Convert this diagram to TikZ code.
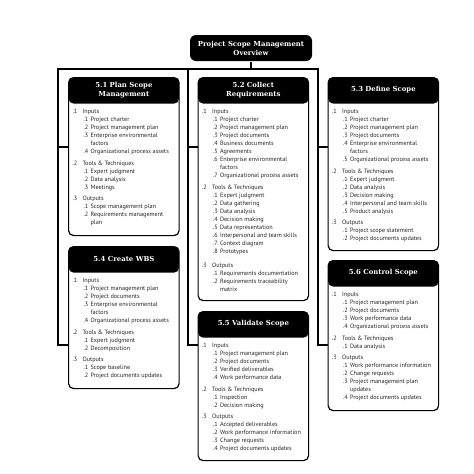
\documentclass[tikz,border=0pt]{standalone}
\usepackage{fontspec}
\setmainfont{PT Sans}
\newfontfamily\slabfont{DejaVu Serif}
\usetikzlibrary{positioning,calc}

% one line of a process box: group, sub item, wrapped rest
\newcommand\grp[2]{\makebox[10pt][l]{#1}#2}
\newcommand\sub[2]{\hspace*{11pt}\makebox[7pt][l]{#1}#2}
\newcommand\cnt[1]{\hspace*{18pt}#1}

\begin{document}
\begin{tikzpicture}[x=1pt, y=-1pt, line width=1.2pt,
  frame/.style={draw, fill=white, rounded corners=5pt, anchor=north west, minimum width=110.5pt, inner sep=0pt,
    path picture={\fill[black] (path picture bounding box.north west) rectangle ([yshift=-26pt]path picture bounding box.north east);}},
  head/.style={align=center, text=white, inner sep=0pt, font=\slabfont\bfseries\fontsize{6.9}{9}\selectfont},
  body/.style={anchor=north west, align=left, inner xsep=4pt, inner ysep=5.5pt, text=black!85, font=\fontsize{6.2}{8}\selectfont},
  overview/.style={fill=black, rounded corners=6pt, minimum width=122pt, minimum height=26pt, inner sep=0pt, align=center, text=white, font=\slabfont\bfseries\fontsize{6.9}{9}\selectfont}]

\useasboundingbox (0,0) rectangle (474,474);

% tree lines
\coordinate (bl) at (58,69);
\coordinate (bm) at (188,69);
\coordinate (br) at (318,69);
\coordinate (tl) at (58,147);
\coordinate (tm) at (188,147);
\coordinate (tr) at (318,147);
\coordinate (kl) at (58,345);
\coordinate (km) at (188,345);
\coordinate (kr) at (318,345);

\node[overview] (top) at (251,48) {Project Scope Management\\Overview};

\node[frame, minimum height=158pt] (p51) at (68,77) {};
\node[frame, minimum height=223pt] (p52) at (197.5,77) {};
\node[frame, minimum height=173pt] (p53) at (327.5,77) {};
\node[frame, minimum height=142pt] (p54) at (68,246) {};
\node[frame, minimum height=149pt] (p55) at (197.5,311) {};
\node[frame, minimum height=150pt] (p56) at (327.5,260) {};

\draw (top.south) -- (top.south |- bm);
\draw (kl -| p54.west) -- (kl) -- (bl) -- (br) -- (kr) -- (kr -| p56.west);
\draw (bm) -- (km) -- (km -| p55.west);
\draw (tl) -- (tl -| p51.west);
\draw (tm) -- (tm -| p52.west);
\draw (tr) -- (tr -| p53.west);

\node[head] (h51) at ([yshift=-13pt]p51.north) {5.1 Plan Scope\\Management};
\node[head] (h52) at ([yshift=-13pt]p52.north) {5.2 Collect\\Requirements};
\node[head] (h53) at ([yshift=-13pt]p53.north) {5.3 Define Scope};
\node[head] (h54) at ([yshift=-13pt]p54.north) {5.4 Create WBS};
\node[head] (h55) at ([yshift=-13pt]p55.north) {5.5 Validate Scope};
\node[head] (h56) at ([yshift=-13pt]p56.north) {5.6 Control Scope};

\node[body] (b51) at ([yshift=-26pt]p51.north west) {%
  \grp{.1}{Inputs}\\
  \sub{.1}{Project charter}\\
  \sub{.2}{Project management plan}\\
  \sub{.3}{Enterprise environmental}\\
  \cnt{factors}\\
  \sub{.4}{Organizational process assets}\\[3.5pt]
  \grp{.2}{Tools \& Techniques}\\
  \sub{.1}{Expert judgment}\\
  \sub{.2}{Data analysis}\\
  \sub{.3}{Meetings}\\[3.5pt]
  \grp{.3}{Outputs}\\
  \sub{.1}{Scope management plan}\\
  \sub{.2}{Requirements management}\\
  \cnt{plan}};

\node[body] (b52) at ([yshift=-26pt]p52.north west) {%
  \grp{.1}{Inputs}\\
  \sub{.1}{Project charter}\\
  \sub{.2}{Project management plan}\\
  \sub{.3}{Project documents}\\
  \sub{.4}{Business documents}\\
  \sub{.5}{Agreements}\\
  \sub{.6}{Enterprise environmental}\\
  \cnt{factors}\\
  \sub{.7}{Organizational process assets}\\[3.5pt]
  \grp{.2}{Tools \& Techniques}\\
  \sub{.1}{Expert judgment}\\
  \sub{.2}{Data gathering}\\
  \sub{.3}{Data analysis}\\
  \sub{.4}{Decision making}\\
  \sub{.5}{Data representation}\\
  \sub{.6}{Interpersonal and team skills}\\
  \sub{.7}{Context diagram}\\
  \sub{.8}{Prototypes}\\[6pt]
  \grp{.3}{Outputs}\\
  \sub{.1}{Requirements documentation}\\
  \sub{.2}{Requirements traceability}\\
  \cnt{matrix}};

\node[body] (b53) at ([yshift=-26pt]p53.north west) {%
  \grp{.1}{Inputs}\\
  \sub{.1}{Project charter}\\
  \sub{.2}{Project management plan}\\
  \sub{.3}{Project documents}\\
  \sub{.4}{Enterprise environmental}\\
  \cnt{factors}\\
  \sub{.5}{Organizational process assets}\\[3.5pt]
  \grp{.2}{Tools \& Techniques}\\
  \sub{.1}{Expert judgment}\\
  \sub{.2}{Data analysis}\\
  \sub{.3}{Decision making}\\
  \sub{.4}{Interpersonal and team skills}\\
  \sub{.5}{Product analysis}\\[3.5pt]
  \grp{.3}{Outputs}\\
  \sub{.1}{Project scope statement}\\
  \sub{.2}{Project documents updates}};

\node[body] (b54) at ([yshift=-26pt]p54.north west) {%
  \grp{.1}{Inputs}\\
  \sub{.1}{Project management plan}\\
  \sub{.2}{Project documents}\\
  \sub{.3}{Enterprise environmental}\\
  \cnt{factors}\\
  \sub{.4}{Organizational process assets}\\[3.5pt]
  \grp{.2}{Tools \& Techniques}\\
  \sub{.1}{Expert judgment}\\
  \sub{.2}{Decomposition}\\[3.5pt]
  \grp{.3}{Outputs}\\
  \sub{.1}{Scope baseline}\\
  \sub{.2}{Project documents updates}};

\node[body] (b55) at ([yshift=-26pt]p55.north west) {%
  \grp{.1}{Inputs}\\
  \sub{.1}{Project management plan}\\
  \sub{.2}{Project documents}\\
  \sub{.3}{Verified deliverables}\\
  \sub{.4}{Work performance data}\\[3.5pt]
  \grp{.2}{Tools \& Techniques}\\
  \sub{.1}{Inspection}\\
  \sub{.2}{Decision making}\\[3.5pt]
  \grp{.3}{Outputs}\\
  \sub{.1}{Accepted deliverables}\\
  \sub{.2}{Work performance information}\\
  \sub{.3}{Change requests}\\
  \sub{.4}{Project documents updates}};

\node[body] (b56) at ([yshift=-26pt]p56.north west) {%
  \grp{.1}{Inputs}\\
  \sub{.1}{Project management plan}\\
  \sub{.2}{Project documents}\\
  \sub{.3}{Work performance data}\\
  \sub{.4}{Organizational process assets}\\[3.5pt]
  \grp{.2}{Tools \& Techniques}\\
  \sub{.1}{Data analysis}\\[3.5pt]
  \grp{.3}{Outputs}\\
  \sub{.1}{Work performance information}\\
  \sub{.2}{Change requests}\\
  \sub{.3}{Project management plan}\\
  \cnt{updates}\\
  \sub{.4}{Project documents updates}};
\end{tikzpicture}
\end{document}
